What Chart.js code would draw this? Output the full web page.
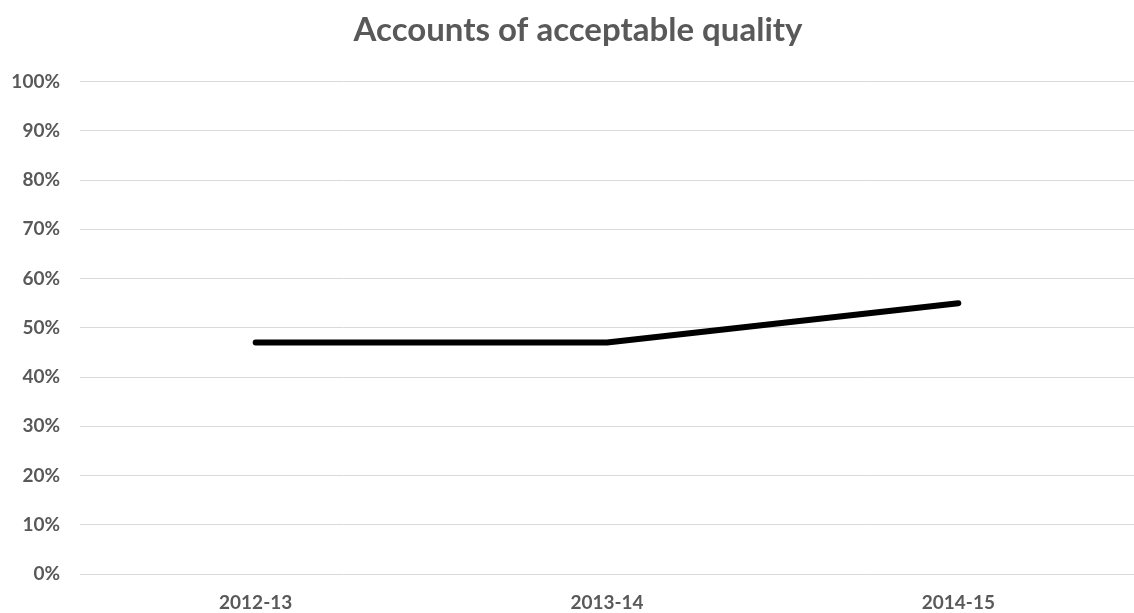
<!DOCTYPE html>
<html>
<head>
<meta charset="utf-8">
<script src="https://cdn.jsdelivr.net/npm/chart.js@4/dist/chart.umd.min.js"></script>
<style>
  html, body { margin: 0; padding: 0; background: #fff; overflow: hidden; }
  #wrap { width: 1134px; height: 613px; position: relative; }
  canvas { display: block; }
</style>
</head>
<body>
<div id="wrap"><canvas id="qualityChart"></canvas></div>
<script>
// data
const years = ['2012-13', '2013-14', '2014-15'];
const acceptableShare = [47, 47, 55];
const yTicks = [0, 10, 20, 30, 40, 50, 60, 70, 80, 90, 100];

const grey = '#595959';
const font = 'Lato, "Open Sans", sans-serif';

// the title in the reference sits a little right of the canvas centre
const titleShift = {
    id: 'titleShift',
    afterLayout(chart) {
        if (chart.titleBlock) chart.titleBlock.left += 22;
    }
};

new Chart(document.getElementById('qualityChart'), {
    type: 'line',
    data: {
        labels: years,
        datasets: [{
            label: 'Accounts of acceptable quality',
            data: acceptableShare,
            borderColor: '#000',
            borderWidth: 6,
            borderCapStyle: 'round',
            borderJoinStyle: 'round',
            pointRadius: 0,
            tension: 0,
            fill: false
        }]
    },
    options: {
        responsive: true,
        maintainAspectRatio: false,
        animation: false,
        layout: { padding: 0 },
        plugins: {
            legend: { display: false },
            tooltip: { enabled: false },
            title: {
                display: true,
                text: 'Accounts of acceptable quality',
                color: grey,
                font: { family: font, size: 33, weight: 'bold' },
                padding: { top: 11, bottom: 31 }
            }
        },
        scales: {
            x: {
                offset: true,
                grid: { display: false, drawTicks: false },
                border: { display: false },
                afterFit: (scale) => {
                    scale.height = 39;
                    scale.paddingLeft = 0;
                    scale.paddingRight = 0;
                },
                ticks: {
                    color: grey,
                    font: { family: font, size: 19, weight: 'bold' },
                    padding: 17,
                    maxRotation: 0
                }
            },
            y: {
                min: 0,
                max: 100,
                afterBuildTicks: (scale) => { scale.ticks = yTicks.map(v => ({ value: v })); },
                afterFit: (scale) => {
                    scale.width = 80;
                    scale.paddingTop = 0;
                    scale.paddingBottom = 0;
                },
                grid: { color: '#d9d9d9', lineWidth: 1, drawTicks: false },
                border: { display: false },
                ticks: {
                    color: grey,
                    font: { family: font, size: 19, weight: 'bold' },
                    padding: 20,
                    callback: (v) => v + '%'
                }
            }
        }
    },
    plugins: [titleShift]
});
</script>
</body>
</html>
